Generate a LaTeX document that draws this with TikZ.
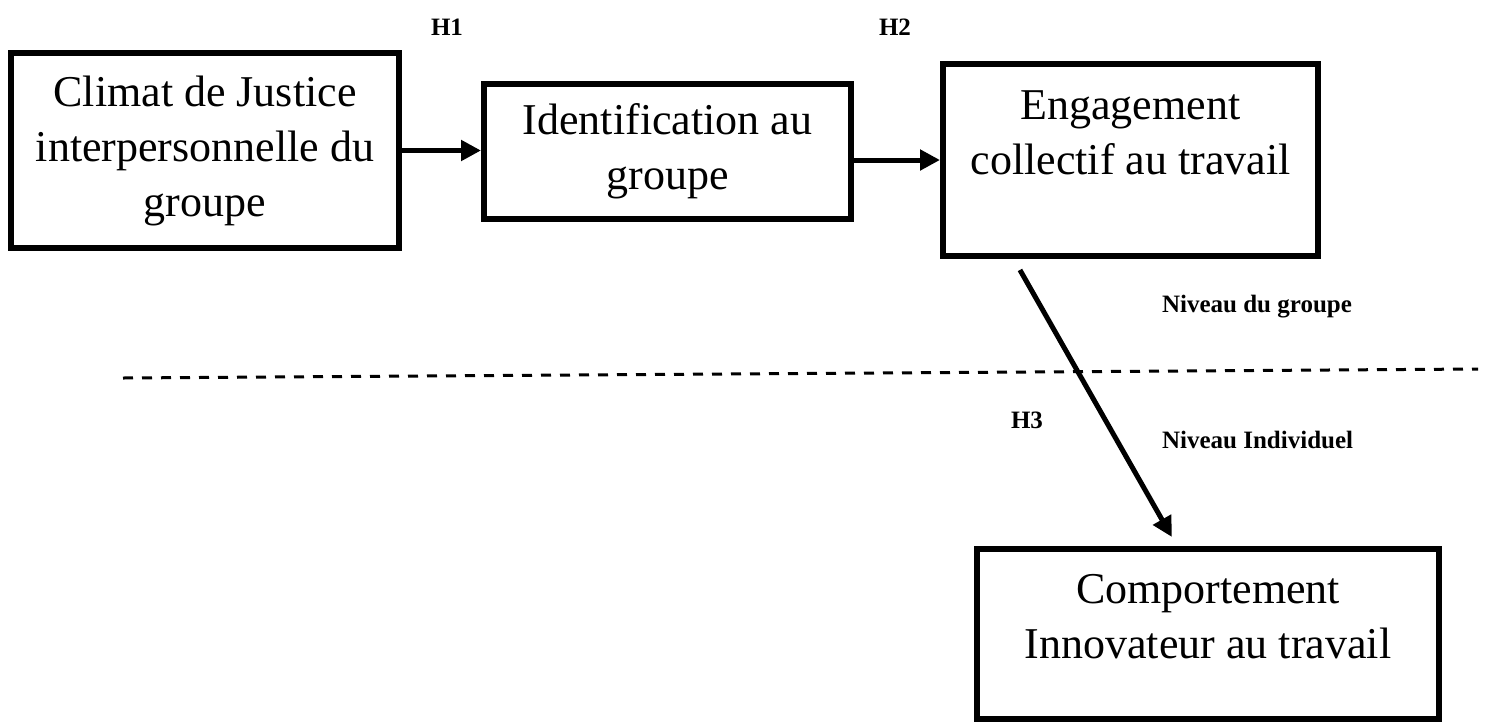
\documentclass[tikz,border=0pt]{standalone}
\usepackage{fontspec}
\setmainfont{Liberation Serif}
\usepackage{tikz}
\usetikzlibrary{arrows.meta}
\tikzset{>={Triangle[length=10pt,width=10pt]}}

\begin{document}
\begin{tikzpicture}[x=0.5pt, y=-0.5pt,
    concept/.style={draw, line width=3pt, align=center, inner sep=2pt,
        font=\fontsize{22}{27.5}\selectfont},
    link/.style={->, line width=2.5pt},
    hypo/.style={font=\fontsize{12.5}{15}\selectfont\bfseries}]
    \useasboundingbox (0,0) rectangle (1491,723);
    % group level
    \node[concept, minimum width=194pt, minimum height=97.5pt] (climat) at (205,150.5)
        {Climat de Justice\\interpersonnelle du\\groupe};
    \node[concept, minimum width=183.5pt, minimum height=67.5pt] (ident) at (667.5,151.5)
        {Identification au\\groupe};
    \node[concept, minimum width=187.5pt, minimum height=96pt] (engag) at (1130.5,160)
        {Engagement\\collectif au travail\\~};
    % individual level
    \node[concept, minimum width=231pt, minimum height=85pt] (innov) at (1208,634)
        {Comportement\\Innovateur au travail\\[-10pt]~};
    \draw[link] (climat.east) -- (climat.east -| ident.west);
    \draw[link] (engag.west -| ident.east) -- (engag.west);
    \draw[link, shorten <=6.3pt, shorten >=5.2pt] ([xshift=-58.4pt]engag.south) -- ([xshift=-15.5pt]innov.north);
    \draw[line width=1.5pt, dash pattern=on 5pt off 4.5pt] (123,378) -- (1478,369);
    \node[hypo] (h1) at (447,27) {H1};
    \node[hypo] (h2) at (895,27) {H2};
    \node[hypo] (h3) at (1027,420) {H3};
    \node[hypo, anchor=west] (grp) at (1155,307) {Niveau du groupe};
    \node[hypo, anchor=west] (indiv) at (1155,440) {Niveau Individuel};
\end{tikzpicture}
\end{document}
